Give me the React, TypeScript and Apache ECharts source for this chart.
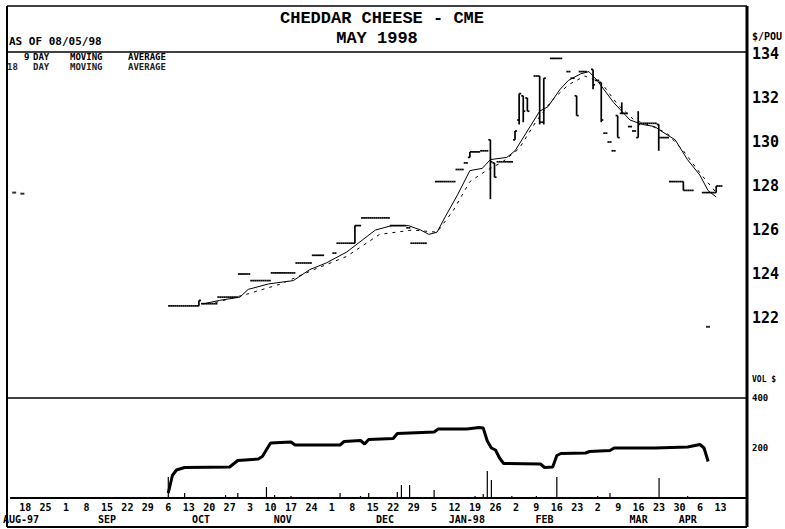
import React, { useEffect, useRef } from "react";
import * as echarts from "echarts";

const MONO = "'DejaVu Sans Mono', 'Liberation Mono', monospace";
const SERIFMONO = "'Liberation Mono', 'DejaVu Sans Mono', monospace";

const FIRST_DAY = "1997-08-13";
const LAST_DAY = "1998-04-21";
const LAST_LABEL_DAY = "1998-04-13";

// Days where the contract traded flat (open = high = low = close): [date, price]
const flatDays: [string, number][] = [
  ["1997-10-07", 122.55], ["1997-10-08", 122.55], ["1997-10-09", 122.55], ["1997-10-10", 122.55],
  ["1997-10-13", 122.55], ["1997-10-14", 122.55], ["1997-10-15", 122.55],
  ["1997-10-17", 122.65], ["1997-10-20", 122.65], ["1997-10-21", 122.65], ["1997-10-22", 122.65],
  ["1997-10-23", 122.95], ["1997-10-24", 122.95], ["1997-10-27", 122.95], ["1997-10-28", 122.95], ["1997-10-29", 122.95],
  ["1997-10-30", 124.0], ["1997-10-31", 124.0], ["1997-11-03", 124.0],
  ["1997-11-04", 123.7], ["1997-11-05", 123.7], ["1997-11-06", 123.7], ["1997-11-07", 123.7], ["1997-11-10", 123.7],
  ["1997-11-11", 124.05], ["1997-11-12", 124.05], ["1997-11-13", 124.05], ["1997-11-14", 124.05], ["1997-11-17", 124.05], ["1997-11-18", 124.05],
  ["1997-11-19", 124.5], ["1997-11-20", 124.5], ["1997-11-21", 124.5], ["1997-11-24", 124.5],
  ["1997-11-25", 124.85], ["1997-11-26", 124.85], ["1997-11-27", 124.85],
  ["1997-12-02", 124.95],
  ["1997-12-03", 125.4], ["1997-12-04", 125.4], ["1997-12-05", 125.4], ["1997-12-08", 125.4],
  ["1997-12-10", 126.2],
  ["1997-12-11", 126.55], ["1997-12-12", 126.55], ["1997-12-15", 126.55], ["1997-12-16", 126.55],
  ["1997-12-17", 126.55], ["1997-12-18", 126.55], ["1997-12-19", 126.55],
  ["1997-12-22", 126.2], ["1997-12-23", 126.2], ["1997-12-24", 126.2], ["1997-12-25", 126.2],
  ["1997-12-26", 126.1],
  ["1997-12-29", 125.4], ["1997-12-30", 125.4], ["1997-12-31", 125.4], ["1998-01-01", 125.4],
  ["1998-01-06", 128.2], ["1998-01-07", 128.2], ["1998-01-08", 128.2], ["1998-01-09", 128.2], ["1998-01-12", 128.2],
  ["1998-01-13", 128.75], ["1998-01-14", 128.75],
  ["1998-01-15", 129.05],
  ["1998-01-19", 129.55], ["1998-01-20", 129.55],
  ["1998-01-21", 129.6], ["1998-01-22", 129.6],
  ["1998-01-27", 129.1], ["1998-01-28", 129.1], ["1998-01-29", 129.1], ["1998-01-30", 129.1],
  ["1998-02-09", 133.0],
  ["1998-02-13", 133.8], ["1998-02-16", 133.8], ["1998-02-17", 133.8],
  ["1998-02-19", 133.2], ["1998-02-20", 132.9],
  ["1998-02-24", 133.2], ["1998-02-25", 133.2],
  ["1998-03-02", 132.8],
  ["1998-03-04", 130.4], ["1998-03-05", 130.0], ["1998-03-06", 129.6],
  ["1998-03-11", 131.3], ["1998-03-12", 130.7], ["1998-03-13", 130.5],
  ["1998-03-17", 130.85], ["1998-03-18", 130.85], ["1998-03-19", 130.85], ["1998-03-20", 130.85],
  ["1998-03-24", 130.2], ["1998-03-25", 130.2],
  ["1998-03-26", 128.2], ["1998-03-27", 128.2], ["1998-03-30", 128.2],
  ["1998-04-01", 127.8], ["1998-04-02", 127.8],
  ["1998-04-07", 127.7], ["1998-04-08", 127.7], ["1998-04-09", 127.7],
  ["1998-04-13", 128.0],
];

// Days with a trading range: [date, open, high, low, close]
const rangeBars: [string, number, number, number, number][] = [
  ["1997-10-16", 122.55, 122.8, 122.55, 122.8],
  ["1997-12-09", 125.4, 126.2, 125.4, 126.2],
  ["1998-01-16", 129.3, 129.55, 129.3, 129.55],
  ["1998-01-23", 130.1, 130.1, 127.4, 129.1],
  ["1998-01-26", 129.05, 129.05, 128.4, 128.4],
  ["1998-02-02", 130.1, 130.5, 130.1, 130.5],
  ["1998-02-03", 131.0, 132.2, 130.8, 132.2],
  ["1998-02-04", 132.1, 132.1, 130.9, 131.4],
  ["1998-02-05", 132.0, 132.0, 131.4, 131.4],
  ["1998-02-10", 133.0, 133.0, 130.8, 130.9],
  ["1998-02-11", 130.9, 132.9, 130.8, 132.9],
  ["1998-02-23", 132.1, 132.1, 131.2, 131.2],
  ["1998-02-27", 133.3, 133.3, 132.4, 132.6],
  ["1998-03-03", 132.7, 132.7, 130.9, 131.0],
  ["1998-03-09", 131.2, 131.2, 130.2, 130.2],
  ["1998-03-10", 131.3, 131.8, 131.3, 131.3],
  ["1998-03-16", 130.2, 131.4, 130.2, 130.8],
  ["1998-03-23", 130.8, 130.8, 129.6, 130.2],
  ["1998-03-31", 128.2, 128.2, 127.8, 127.8],
  ["1998-04-10", 127.7, 128.0, 127.7, 128.0],
];

const ma9: [string, number][] = [
  ["1997-10-17", 122.64], ["1997-10-23", 122.8], ["1997-10-30", 122.95], ["1997-11-03", 123.3],
  ["1997-11-10", 123.55], ["1997-11-18", 123.7], ["1997-11-24", 124.2], ["1997-11-28", 124.5],
  ["1997-12-05", 125.0], ["1997-12-16", 126.0], ["1997-12-22", 126.2], ["1997-12-26", 126.2],
  ["1997-12-31", 126.0], ["1998-01-02", 125.8], ["1998-01-06", 125.9], ["1998-01-08", 126.6],
  ["1998-01-13", 127.6], ["1998-01-16", 128.7], ["1998-01-21", 128.8], ["1998-01-23", 129.2],
  ["1998-01-29", 129.3], ["1998-02-02", 129.6], ["1998-02-05", 130.5], ["1998-02-10", 131.4],
  ["1998-02-12", 131.6], ["1998-02-17", 132.4], ["1998-02-19", 132.8], ["1998-02-24", 133.1],
  ["1998-02-26", 133.2], ["1998-03-02", 132.8], ["1998-03-06", 131.8], ["1998-03-10", 131.4],
  ["1998-03-12", 131.0], ["1998-03-17", 130.8], ["1998-03-20", 130.7], ["1998-03-24", 130.45],
  ["1998-03-27", 130.1], ["1998-04-01", 129.2], ["1998-04-06", 128.5], ["1998-04-08", 127.8],
  ["1998-04-10", 127.5],
];

const ma18: [string, number][] = [
  ["1997-10-22", 122.7], ["1997-11-03", 123.1], ["1997-11-13", 123.55], ["1997-11-25", 124.2],
  ["1997-12-05", 124.8], ["1997-12-17", 125.8], ["1997-12-29", 126.0], ["1998-01-06", 125.9],
  ["1998-01-12", 126.9], ["1998-01-16", 128.2], ["1998-01-22", 128.7], ["1998-01-28", 129.1],
  ["1998-02-03", 129.7], ["1998-02-09", 130.9], ["1998-02-13", 131.9], ["1998-02-19", 132.6],
  ["1998-02-25", 133.0], ["1998-03-03", 132.7], ["1998-03-09", 131.7], ["1998-03-13", 131.0],
  ["1998-03-19", 130.75], ["1998-03-25", 130.4], ["1998-03-31", 129.6], ["1998-04-06", 128.6],
  ["1998-04-10", 127.7],
];

const openInterest: [string, number][] = [
  ["1997-10-06", 20], ["1997-10-07", 90], ["1997-10-08", 112], ["1997-10-10", 122],
  ["1997-10-27", 124], ["1997-10-29", 150], ["1997-11-05", 156], ["1997-11-06", 166],
  ["1997-11-10", 220], ["1997-11-17", 224], ["1997-11-18", 212], ["1997-12-03", 212],
  ["1997-12-04", 226], ["1997-12-10", 230], ["1997-12-11", 216], ["1997-12-12", 234],
  ["1997-12-22", 238], ["1997-12-23", 258], ["1998-01-05", 264], ["1998-01-06", 276],
  ["1998-01-15", 276], ["1998-01-20", 282], ["1998-01-21", 280], ["1998-01-22", 228],
  ["1998-01-23", 200], ["1998-01-26", 192], ["1998-01-27", 160], ["1998-01-28", 138],
  ["1998-02-10", 136], ["1998-02-11", 122], ["1998-02-13", 124], ["1998-02-16", 170],
  ["1998-02-17", 178], ["1998-02-25", 180], ["1998-02-26", 186], ["1998-03-05", 190],
  ["1998-03-06", 200], ["1998-03-20", 200], ["1998-04-01", 204], ["1998-04-06", 214],
  ["1998-04-07", 200], ["1998-04-08", 146],
];

const volume: [string, number][] = [
  ["1997-10-06", 84], ["1997-10-10", 20], ["1997-10-24", 12], ["1997-10-29", 20],
  ["1997-11-07", 44], ["1997-11-11", 12], ["1997-11-17", 8], ["1997-12-03", 20],
  ["1997-12-10", 8], ["1997-12-12", 20], ["1997-12-23", 24], ["1997-12-24", 52],
  ["1997-12-26", 52], ["1998-01-05", 32], ["1998-01-19", 8], ["1998-01-21", 16],
  ["1998-01-22", 108], ["1998-01-23", 72], ["1998-01-30", 8], ["1998-02-09", 8],
  ["1998-02-16", 84], ["1998-03-02", 8], ["1998-03-05", 20], ["1998-03-23", 80],
  ["1998-04-01", 8],
];

const strayMarks: [string, number][] = [
  ["1997-08-14", 127.7], ["1997-08-18", 127.65], ["1998-04-08", 121.6],
];

const PRICE_LABEL_MIN = 122;
const monthLabels: [string, string][] = [
  ["1997-08-15", "AUG-97"], ["1997-09-15", "SEP"], ["1997-10-16", "OCT"], ["1997-11-13", "NOV"],
  ["1997-12-18", "DEC"], ["1998-01-15", "JAN-98"], ["1998-02-11", "FEB"], ["1998-03-16", "MAR"],
  ["1998-04-01", "APR"],
];
const legendRows: string[][] = [
  ["9", "DAY", "MOVING", "AVERAGE"],
  ["18", "DAY", "MOVING", "AVERAGE"],
];

function weekdays(from: string, to: string): string[] {
  const out: string[] = [];
  const d = new Date(from + "T00:00:00Z");
  const end = new Date(to + "T00:00:00Z");
  while (d.getTime() <= end.getTime()) {
    const wd = d.getUTCDay();
    if (wd !== 0 && wd !== 6) out.push(d.toISOString().slice(0, 10));
    d.setUTCDate(d.getUTCDate() + 1);
  }
  return out;
}

const isMonday = (s: string) => new Date(s + "T00:00:00Z").getUTCDay() === 1;

export default function App() {
  const ref = useRef<HTMLDivElement>(null);
  useEffect(() => {
    if (!ref.current) return;
    const chart = echarts.init(ref.current, undefined, { renderer: "svg" });
    const days = weekdays(FIRST_DAY, LAST_DAY);
    const monthMap = new Map(monthLabels);
    const bars = [
      ...flatDays.map(([d, c]) => [d, c, c, c, c]),
      ...rangeBars,
    ];
    const line = (x1: number, y1: number, x2: number, y2: number, w: number) => ({
      type: "line",
      shape: { x1, y1, x2, y2 },
      style: { stroke: "#000", lineWidth: w },
      silent: true,
    });
    const txt = (x: number, y: number, text: string, size: number, family = MONO, align = "left", fill = "#000") => ({
      type: "text",
      x,
      y,
      style: {
        text,
        fill,
        font: `bold ${size}px ${family}`,
        textAlign: align,
        textVerticalAlign: "middle",
        align,
        verticalAlign: "middle",
      },
      silent: true,
    });
    const legendX = [
      [24, 33, 70, 128],
      [7, 33, 70, 128],
    ];
    const legendGraphics: any[] = [];
    legendRows.forEach((row, r) =>
      row.forEach((w, k) =>
        legendGraphics.push(txt(legendX[r][k], r === 0 ? 57 : 66.5, w, 9, MONO, "left", r === 0 ? "#000" : "#222"))
      )
    );

    chart.setOption({
      animation: false,
      backgroundColor: "#fff",
      textStyle: { fontFamily: MONO },
      grid: [
        { left: 8, right: 38, top: 54, height: 352 },
        { left: 8, right: 38, top: 398, height: 100 },
      ],
      xAxis: [
        { type: "category", gridIndex: 0, data: days, boundaryGap: true, show: false },
        {
          type: "category",
          gridIndex: 1,
          data: days,
          boundaryGap: true,
          axisLine: { show: true, lineStyle: { color: "#000", width: 2 } },
          axisTick: { show: false },
          axisLabel: {
            interval: (_i: number, v: string) => isMonday(v) && v <= LAST_LABEL_DAY,
            formatter: (v: string) => String(Number(v.slice(8, 10))),
            color: "#000",
            fontWeight: "bold",
            fontSize: 10,
            fontFamily: MONO,
            margin: 4,
          },
        },
        {
          type: "category",
          gridIndex: 1,
          data: days,
          boundaryGap: true,
          position: "bottom",
          offset: 12,
          axisLine: { show: false },
          axisTick: { show: false },
          axisLabel: {
            interval: (_i: number, v: string) => monthMap.has(v),
            formatter: (v: string) => monthMap.get(v) || "",
            color: "#000",
            fontWeight: "bold",
            fontSize: 10,
            fontFamily: MONO,
            margin: 4,
          },
        },
      ],
      yAxis: [
        {
          type: "value",
          gridIndex: 0,
          position: "right",
          min: 118,
          max: 134,
          interval: 2,
          axisLine: { show: false },
          axisTick: { show: false },
          splitLine: { show: false },
          axisLabel: {
            formatter: (v: number) => (v >= PRICE_LABEL_MIN ? String(v) : ""),
            color: "#000",
            fontWeight: "bold",
            fontSize: 15,
            fontFamily: MONO,
            margin: 5,
          },
        },
        {
          type: "value",
          gridIndex: 1,
          position: "right",
          min: 0,
          max: 400,
          interval: 200,
          axisLine: { show: false },
          axisTick: { show: false },
          splitLine: { show: false },
          axisLabel: {
            formatter: (v: number) => (v > 0 ? String(v) : ""),
            color: "#000",
            fontWeight: "bold",
            fontSize: 9,
            fontFamily: MONO,
            margin: 5,
          },
        },
      ],
      series: [
        {
          name: "Price",
          type: "custom",
          xAxisIndex: 0,
          yAxisIndex: 0,
          dimensions: [{ name: "date", type: "ordinal" }, "open", "high", "low", "close"],
          encode: { x: 0, y: [1, 2, 3, 4] },
          data: bars,
          renderItem: (_p: any, api: any) => {
            const x = api.value(0);
            const o = api.coord([x, api.value(1)]);
            const h = api.coord([x, api.value(2)]);
            const l = api.coord([x, api.value(3)]);
            const c = api.coord([x, api.value(4)]);
            const w = api.size([1, 0])[0] / 2;
            const style = { stroke: "#000", lineWidth: 1.7 };
            const children: any[] = [];
            if (Math.abs(h[1] - l[1]) > 0.5)
              children.push({ type: "line", shape: { x1: h[0], y1: h[1], x2: l[0], y2: l[1] }, style });
            children.push({ type: "line", shape: { x1: o[0] - w, y1: o[1], x2: o[0], y2: o[1] }, style });
            children.push({ type: "line", shape: { x1: c[0], y1: c[1], x2: c[0] + w, y2: c[1] }, style });
            return { type: "group", children };
          },
        },
        {
          name: "9 day moving average",
          type: "line",
          xAxisIndex: 0,
          yAxisIndex: 0,
          data: ma9,
          showSymbol: false,
          lineStyle: { color: "#000", width: 1 },
        },
        {
          name: "18 day moving average",
          type: "line",
          xAxisIndex: 0,
          yAxisIndex: 0,
          data: ma18,
          showSymbol: false,
          lineStyle: { color: "#000", width: 1, type: [3, 5] },
        },
        {
          name: "marks",
          type: "scatter",
          xAxisIndex: 0,
          yAxisIndex: 0,
          data: strayMarks,
          symbol: "rect",
          symbolSize: [4, 2],
          itemStyle: { color: "#000" },
        },
        {
          name: "Volume",
          type: "bar",
          xAxisIndex: 1,
          yAxisIndex: 1,
          data: volume,
          barWidth: 1.2,
          itemStyle: { color: "#000" },
        },
        {
          name: "Open interest",
          type: "line",
          xAxisIndex: 1,
          yAxisIndex: 1,
          data: openInterest,
          showSymbol: false,
          lineStyle: { color: "#000", width: 3 },
        },
      ],
      graphic: [
        line(7, 6, 747, 6, 1.5),
        line(7, 6, 7, 527, 2),
        line(7, 527, 747, 527, 2),
        line(747, 6, 747, 527, 3),
        line(7, 52, 747, 52, 1.5),
        line(7, 398, 747, 398, 1.5),
        txt(382, 18, "CHEDDAR CHEESE - CME", 17, SERIFMONO, "center"),
        txt(377, 38, "MAY 1998", 17, SERIFMONO, "center"),
        txt(9, 41, "AS OF 08/05/98", 11),
        txt(752, 36, "$/POU", 10),
        txt(752, 379, "VOL $", 8),
        ...legendGraphics,
      ],
    });
    return () => chart.dispose();
  }, []);
  return (
    <div
      ref={ref}
      style={{ position: "fixed", left: 0, top: 0, width: 785, height: 529, background: "#fff" }}
    />
  );
}
